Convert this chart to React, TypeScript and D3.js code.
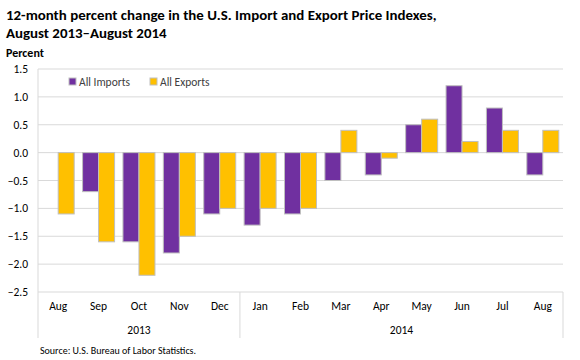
import * as d3 from "d3";

const months = ["Aug", "Sep", "Oct", "Nov", "Dec", "Jan", "Feb", "Mar", "Apr", "May", "Jun", "Jul", "Aug"];
const years = [
  { label: "2013", from: 0, to: 4 },
  { label: "2014", from: 5, to: 12 },
];
const allImports = [0, -0.7, -1.6, -1.8, -1.1, -1.3, -1.1, -0.5, -0.4, 0.5, 1.2, 0.8, -0.4];
const allExports = [-1.1, -1.6, -2.2, -1.5, -1.0, -1.0, -1.0, 0.4, -0.1, 0.6, 0.2, 0.4, 0.4];
const yTicks = [1.5, 1.0, 0.5, 0.0, -0.5, -1.0, -1.5, -2.0, -2.5];
const seriesNames = ["All Imports", "All Exports"];

const width = 580;
const height = 360;
const marginLeft = 38;
const marginRight = 17;
const plotTop = 69;
const plotBottom = 292;
const font = "Carlito, Lato, 'Open Sans', sans-serif";
const colors = ["#7030A0", "#FFC000"];

const App = () => {
  const x = d3
    .scaleBand<number>()
    .domain(months.map((_, i) => i))
    .range([marginLeft, width - marginRight]);
  const y = d3.scaleLinear().domain([-2.5, 1.5]).range([plotBottom, plotTop]);
  const barW = 16;
  const offset = (x.bandwidth() - barW * 2) / 2;

  const bars = (vals: number[], k: number) =>
    vals.map((v, i) =>
      v === 0 && k === 0 ? null : (
        <rect
          key={`${k}-${i}`}
          x={(x(i) ?? 0) + offset + k * barW}
          y={Math.min(y(v), y(0))}
          width={barW}
          height={Math.abs(y(v) - y(0))}
          fill={colors[k]}
          stroke="#bfbfbf"
          strokeWidth={1}
        />
      )
    );

  return (
    <svg
      width={width}
      height={height}
      style={{ position: "absolute", left: 0, top: 0, background: "#fff" }}
    >
      <text x={6} y={20} fontFamily={font} fontSize={14.9} fontWeight="bold" fill="#000">
        12-month percent change in the U.S. Import and Export Price Indexes,
      </text>
      <text x={6} y={38} fontFamily={font} fontSize={14.9} fontWeight="bold" fill="#000">
        August 2013–August  2014
      </text>
      <text x={6} y={57} fontFamily={font} fontSize={12} fontWeight="bold" fill="#000">
        Percent
      </text>

      {yTicks.map((t) => (
        <g key={t}>
          <line
            x1={marginLeft}
            x2={width - marginRight}
            y1={y(t)}
            y2={y(t)}
            stroke="#d9d9d9"
            strokeWidth={1}
          />
          <text
            x={28}
            y={y(t)}
            dy="0.35em"
            textAnchor="end"
            fontFamily={font}
            fontSize={11.5}
            fill="#000"
          >
            {d3.format(".1f")(t)}
          </text>
        </g>
      ))}

      <line x1={marginLeft} x2={marginLeft} y1={plotTop} y2={338} stroke="#d9d9d9" />
      {years.map((yr) => {
        const right = (x(yr.to) ?? 0) + x.bandwidth();
        return (
          <line key={yr.label} x1={right} x2={right} y1={plotBottom} y2={338} stroke="#d9d9d9" />
        );
      })}

      {bars(allImports, 0)}
      {bars(allExports, 1)}

      {months.map((m, i) => (
        <text
          key={i}
          x={(x(i) ?? 0) + x.bandwidth() / 2}
          y={310}
          textAnchor="middle"
          fontFamily={font}
          fontSize={11.5}
          fill="#000"
        >
          {m}
        </text>
      ))}
      {years.map((yr) => (
        <text
          key={yr.label}
          x={((x(yr.from) ?? 0) + (x(yr.to) ?? 0) + x.bandwidth()) / 2}
          y={334}
          textAnchor="middle"
          fontFamily={font}
          fontSize={11.5}
          fill="#000"
        >
          {yr.label}
        </text>
      ))}

      {seriesNames.map((s, k) => (
        <g key={s} transform={`translate(${69 + k * 81}, 82)`}>
          <rect x={0} y={-4} width={7} height={7} fill={colors[k]} stroke="#bfbfbf" />
          <text x={10} y={0} dy="0.35em" fontFamily={font} fontSize={11.5} fill="#404040">
            {s}
          </text>
        </g>
      ))}

      <text x={40} y={354} fontFamily={font} fontSize={10} fill="#000">
        Source: U.S. Bureau of Labor Statistics.
      </text>
    </svg>
  );
};

export default App;
